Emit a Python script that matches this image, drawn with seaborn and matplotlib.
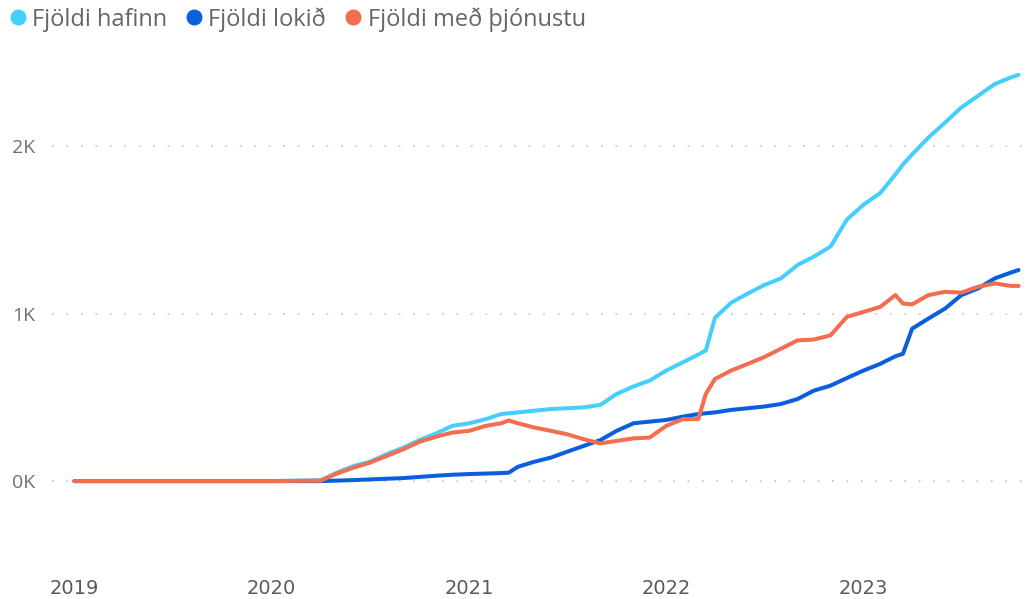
import numpy as np
import pandas as pd
import matplotlib
matplotlib.use('Agg')
import matplotlib.pyplot as plt
from matplotlib.lines import Line2D
import seaborn as sns

sns.set_theme(style='white')
plt.rcParams['font.family'] = ['Open Sans', 'DejaVu Sans']

# monthly readings (first of month) plus a few mid-month points at the jumps
DATES = ['2019-01-01', '2019-04-01', '2019-07-01', '2019-10-01', '2020-01-01', '2020-04-01',
         '2020-05-01', '2020-06-01', '2020-07-01', '2020-08-01', '2020-09-01', '2020-10-01',
         '2020-11-01', '2020-12-01', '2021-01-01', '2021-02-01', '2021-03-01', '2021-03-15',
         '2021-04-01', '2021-05-01', '2021-06-01', '2021-07-01', '2021-08-01', '2021-09-01',
         '2021-10-01', '2021-11-01', '2021-12-01', '2022-01-01', '2022-02-01', '2022-03-01',
         '2022-03-15', '2022-04-01', '2022-05-01', '2022-06-01', '2022-07-01', '2022-08-01',
         '2022-09-01', '2022-10-01', '2022-11-01', '2022-12-01', '2023-01-01', '2023-02-01',
         '2023-03-01', '2023-03-15', '2023-04-01', '2023-05-01', '2023-06-01', '2023-07-01',
         '2023-08-01', '2023-09-01', '2023-10-01', '2023-10-15']

HAFINN = [0, 0, 0, 0, 0, 5,
          50, 90, 115, 160, 200, 245,
          285, 330, 345, 370, 400, 405,
          410, 420, 430, 435, 440, 455,
          520, 565, 600, 660, 710, 755,
          780, 975, 1065, 1120, 1170, 1210,
          1290, 1340, 1400, 1560, 1650, 1720,
          1830, 1890, 1950, 2050, 2140, 2230,
          2300, 2370, 2410, 2425]

LOKID = [0, 0, 0, 0, 0, 0,
         3, 6, 10, 14, 18, 25,
         32, 38, 42, 45, 48, 50,
         85, 115, 140, 175, 210, 245,
         300, 345, 355, 365, 385, 400,
         405, 410, 425, 435, 445, 460,
         490, 540, 570, 615, 660, 700,
         745, 760, 910, 970, 1030, 1110,
         1150, 1210, 1245, 1260]

THJONUSTU = [0, 0, 0, 0, 0, 3,
             45, 80, 110, 150, 190, 235,
             265, 290, 300, 330, 345, 362,
             345, 320, 300, 280, 250, 225,
             240, 255, 260, 330, 370, 370,
             520, 610, 660, 700, 740, 790,
             840, 845, 870, 980, 1010, 1040,
             1110, 1060, 1055, 1110, 1130, 1125,
             1160, 1180, 1165, 1165]

SERIES = ['Fjöldi hafinn', 'Fjöldi lokið', 'Fjöldi með þjónustu']
COLORS = ['#45CFFF', '#0B5FDD', '#F36D50']
Y_TICKS = [0, 1000, 2000]
Y_LABELS = ['0K', '1K', '2K']
X_YEARS = ['2019', '2020', '2021', '2022', '2023']

df = pd.DataFrame({'date': pd.to_datetime(DATES),
                   SERIES[0]: HAFINN, SERIES[1]: LOKID, SERIES[2]: THJONUSTU})
long = df.melt(id_vars='date', var_name='series', value_name='value')

fig = plt.figure(figsize=(10.33, 5.99), dpi=100)
ax = fig.add_axes([0.050, 0.057, 0.947, 0.860])

sns.lineplot(data=long, x='date', y='value', hue='series', hue_order=SERIES,
             palette=COLORS, linewidth=2.9, ax=ax, legend=False)

ax.set_xlim(pd.Timestamp('2018-11-20'), pd.Timestamp('2023-11-05'))
ax.set_ylim(-500, 2575)
ax.set_yticks(Y_TICKS)
ax.set_yticklabels(Y_LABELS, color='#707070', fontsize=14)
ax.set_xticks(pd.to_datetime([y + '-01-01' for y in X_YEARS]))
ax.set_xticklabels(X_YEARS, color='#5a5a5a', fontsize=14,
                   family=['Liberation Sans Narrow', 'DejaVu Sans'])
ax.tick_params(axis='y', length=0, pad=12)
ax.tick_params(axis='x', length=0, pad=10)
ax.grid(axis='y', color='#cccccc', linestyle=(0, (1, 7)), linewidth=1.3)
ax.set_axisbelow(True)
for s in ax.spines.values():
    s.set_visible(False)
ax.set_xlabel('')
ax.set_ylabel('')

handles = [Line2D([], [], marker='o', linestyle='', markersize=10.5,
                  markerfacecolor=c, markeredgecolor=c) for c in COLORS]
fig.legend(handles, SERIES, loc='upper left', bbox_to_anchor=(-0.001, 1.0),
           ncol=3, frameon=False, fontsize=17, handletextpad=0.1,
           columnspacing=0.65, handlelength=1.0, borderaxespad=0.1,
           borderpad=0.2, labelcolor='#666666')

fig.savefig('out.png', dpi=100)
